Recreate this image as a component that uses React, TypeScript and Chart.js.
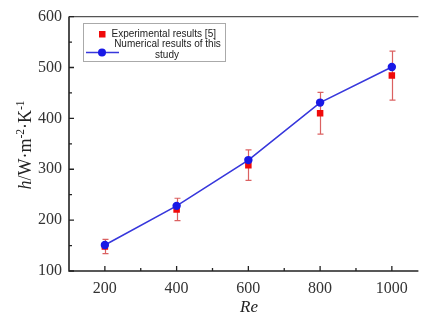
import React, { useEffect, useRef } from "react";
import { Chart, registerables } from "chart.js";
Chart.register(...registerables);

const reynolds = [200, 400, 600, 800, 1000];
const numerical = [151, 228, 318, 431, 501];
const experimental = [148, 221, 308, 410, 484];
const experimentalError = [14, 22, 30, 41, 48];
const xTicks = [200, 400, 600, 800, 1000];
const xMinorTicks = [300, 500, 700, 900];
const yTicks = [100, 200, 300, 400, 500, 600];
const yMinorTicks = [150, 250, 350, 450, 550];
const legendExp = "Experimental results [5]";
const legendNum1 = "Numerical results of this";
const legendNum2 = "study";

const SERIF = '"Liberation Serif", "Times New Roman", serif';
const SANS = '"Liberation Sans", Arial, sans-serif';
const BLUE = "rgb(25,25,230)";
const LINE_BLUE = "rgb(55,55,220)";
const RED = "rgb(240,10,10)";
const ERR = "rgba(215,80,80,0.9)";

const decorPlugin = {
  id: "decor",
  beforeDatasetsDraw(chart: any) {
    const { ctx, scales } = chart;
    const x = scales.x;
    const y = scales.y;
    ctx.save();
    ctx.strokeStyle = ERR;
    ctx.lineWidth = 1.2;
    experimental.forEach((v, i) => {
      const px = Math.round(x.getPixelForValue(reynolds[i])) + 0.5;
      const top = y.getPixelForValue(v + experimentalError[i]);
      const bot = y.getPixelForValue(v - experimentalError[i]);
      ctx.beginPath();
      ctx.moveTo(px, top);
      ctx.lineTo(px, bot);
      ctx.moveTo(px - 3, top);
      ctx.lineTo(px + 3, top);
      ctx.moveTo(px - 3, bot);
      ctx.lineTo(px + 3, bot);
      ctx.stroke();
    });
    ctx.restore();
  },
  afterDraw(chart: any) {
    const { ctx, scales, chartArea } = chart;
    const x = scales.x;
    const y = scales.y;
    const L = chartArea.left;
    const R = chartArea.right;
    const T = chartArea.top;
    const B = chartArea.bottom;
    ctx.save();
    // frame
    ctx.strokeStyle = "#222";
    ctx.lineWidth = 1.6;
    ctx.beginPath();
    ctx.moveTo(L, T);
    ctx.lineTo(L, B);
    ctx.lineTo(R, B);
    ctx.stroke();
    ctx.strokeStyle = "#555";
    ctx.lineWidth = 1.4;
    ctx.beginPath();
    ctx.moveTo(L, T);
    ctx.lineTo(R, T);
    ctx.stroke();
    // ticks (inward)
    ctx.strokeStyle = "#222";
    ctx.lineWidth = 1.3;
    ctx.beginPath();
    xTicks.forEach((v) => {
      const px = x.getPixelForValue(v);
      ctx.moveTo(px, B);
      ctx.lineTo(px, B - 5);
    });
    xMinorTicks.forEach((v) => {
      const px = x.getPixelForValue(v);
      ctx.moveTo(px, B);
      ctx.lineTo(px, B - 3);
    });
    yTicks.forEach((v) => {
      const py = y.getPixelForValue(v);
      ctx.moveTo(L, py);
      ctx.lineTo(L + 5, py);
    });
    yMinorTicks.forEach((v) => {
      const py = y.getPixelForValue(v);
      ctx.moveTo(L, py);
      ctx.lineTo(L + 3, py);
    });
    ctx.stroke();

    // x title
    ctx.fillStyle = "#222";
    ctx.font = `italic 17px ${SERIF}`;
    ctx.textAlign = "center";
    ctx.textBaseline = "middle";
    ctx.fillText("Re", 249, 308);

    // y title
    ctx.save();
    ctx.translate(25, 145);
    ctx.rotate(-Math.PI / 2);
    const big = `18px ${SERIF}`;
    const small = `11.5px ${SERIF}`;
    const parts = [
      { t: "h", f: `italic 18px ${SERIF}`, dy: 0 },
      { t: "/W·m", f: big, dy: 0 },
      { t: "-2", f: small, dy: -7.5 },
      { t: "·K", f: big, dy: 0 },
      { t: "-1", f: small, dy: -7.5 },
    ];
    let total = 0;
    parts.forEach((p) => {
      ctx.font = p.f;
      total += ctx.measureText(p.t).width;
    });
    let cx = -total / 2;
    ctx.textAlign = "left";
    ctx.textBaseline = "alphabetic";
    parts.forEach((p) => {
      ctx.font = p.f;
      ctx.fillText(p.t, cx, 6 + p.dy);
      cx += ctx.measureText(p.t).width;
    });
    ctx.restore();

    // legend
    ctx.fillStyle = "#fff";
    ctx.fillRect(83.5, 23.5, 142, 38);
    ctx.strokeStyle = "#aaa";
    ctx.lineWidth = 1;
    ctx.strokeRect(83.5, 23.5, 142, 38);
    ctx.fillStyle = RED;
    ctx.fillRect(99, 31, 6.5, 6.5);
    ctx.strokeStyle = LINE_BLUE;
    ctx.lineWidth = 1.6;
    ctx.beginPath();
    ctx.moveTo(86, 52.5);
    ctx.lineTo(119, 52.5);
    ctx.stroke();
    ctx.fillStyle = BLUE;
    ctx.beginPath();
    ctx.arc(102, 52.5, 4, 0, Math.PI * 2);
    ctx.fill();
    ctx.fillStyle = "#222";
    ctx.font = `10px ${SANS}`;
    ctx.textBaseline = "middle";
    ctx.textAlign = "left";
    ctx.fillText(legendExp, 111.5, 34.5);
    ctx.textAlign = "center";
    ctx.fillText(legendNum1, 167.5, 44.5);
    ctx.fillText(legendNum2, 167, 55.5);
    ctx.restore();
  },
};

export default function App() {
  const ref = useRef<HTMLCanvasElement | null>(null);
  useEffect(() => {
    if (!ref.current) return;
    const chart = new Chart(ref.current, {
      type: "scatter",
      data: {
        datasets: [
          {
            label: "Numerical results of this study",
            data: reynolds.map((r, i) => ({ x: r, y: numerical[i] })),
            showLine: true,
            borderColor: LINE_BLUE,
            borderWidth: 1.6,
            pointStyle: "circle",
            pointRadius: 4.2,
            pointBackgroundColor: BLUE,
            pointBorderColor: BLUE,
            pointBorderWidth: 0,
            order: 0,
          },
          {
            label: "Experimental results [5]",
            data: reynolds.map((r, i) => ({ x: r, y: experimental[i] })),
            showLine: false,
            pointStyle: "rect",
            pointRadius: 4.6,
            pointBackgroundColor: RED,
            pointBorderColor: RED,
            pointBorderWidth: 0,
            order: 1,
          },
        ],
      },
      options: {
        responsive: false,
        animation: false,
        layout: { padding: { top: 16, left: 0, right: 0, bottom: 0 } },
        plugins: { legend: { display: false }, tooltip: { enabled: false } },
        scales: {
          x: {
            type: "linear",
            min: 100,
            max: 1074,
            afterBuildTicks: (s: any) => {
              s.ticks = xTicks.map((v) => ({ value: v }));
            },
            afterFit: (s: any) => {
              s.height = 49;
            },
            ticks: {
              autoSkip: false,
              maxRotation: 0,
              padding: 8,
              color: "#333",
              font: { family: SERIF, size: 16 },
              callback: (v: any) => String(v),
            },
            grid: { display: false, drawTicks: false },
            border: { display: false },
          },
          y: {
            type: "linear",
            min: 100,
            max: 600,
            afterBuildTicks: (s: any) => {
              s.ticks = yTicks.map((v) => ({ value: v }));
            },
            afterFit: (s: any) => {
              s.width = 69;
            },
            ticks: {
              padding: 7,
              color: "#333",
              font: { family: SERIF, size: 16 },
              callback: (v: any) => String(v),
            },
            grid: { display: false, drawTicks: false },
            border: { display: false },
          },
        },
      },
      plugins: [decorPlugin],
    });
    return () => chart.destroy();
  }, []);
  return (
    <div style={{ position: "fixed", left: 0, top: 0, width: 423, height: 320, background: "#fff" }}>
      <canvas ref={ref} width={423} height={320} />
    </div>
  );
}
